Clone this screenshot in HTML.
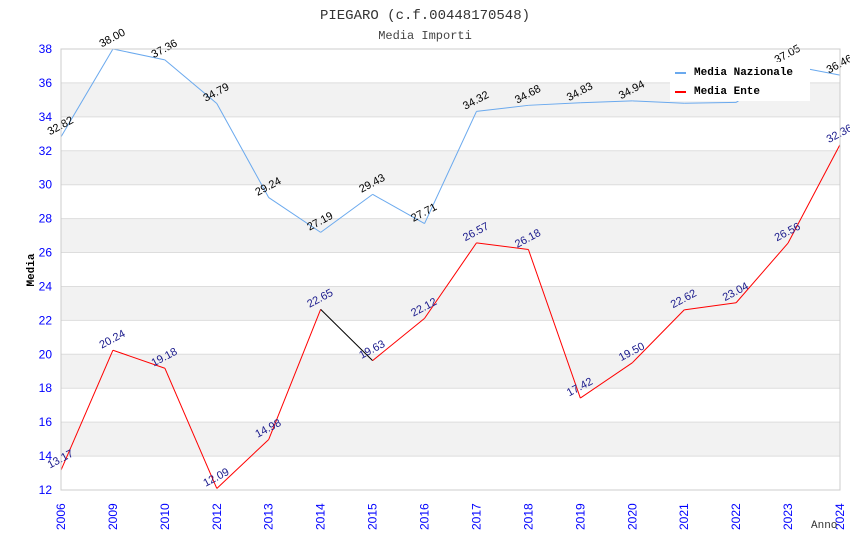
<!DOCTYPE html>
<html><head><meta charset="utf-8"><style>
body{margin:0;background:#fff;width:850px;height:550px;overflow:hidden}
svg{display:block}
</style></head><body>
<svg id="chart" width="850" height="550" xmlns="http://www.w3.org/2000/svg">
<text x="425" y="19" text-anchor="middle" font-family="Liberation Mono, monospace" font-size="14" fill="#333">PIEGARO (c.f.00448170548)</text>
<text x="425" y="39" text-anchor="middle" font-family="Liberation Mono, monospace" font-size="12" fill="#444">Media Importi</text>
<g id="bands"></g><g id="grid"></g><g id="lines"></g><g id="labels"></g><g id="axes"></g>
<text x="34" y="270" transform="rotate(-90 34 270)" text-anchor="middle" font-family="Liberation Mono, monospace" font-size="11" font-weight="bold" fill="#000">Media</text>
<text x="811" y="528" font-family="Liberation Mono, monospace" font-size="11" fill="#333">Anno</text>
<g>
<rect x="670" y="62" width="140" height="39" fill="#fff"/>
<rect x="675" y="72" width="11" height="2" fill="#6aa9ee"/>
<text x="694" y="75" font-family="Liberation Mono, monospace" font-size="11" font-weight="bold" fill="#000">Media Nazionale</text>
<rect x="675" y="91" width="11" height="2" fill="#f00"/>
<text x="694" y="94" font-family="Liberation Mono, monospace" font-size="11" font-weight="bold" fill="#000">Media Ente</text>
</g>
</svg>
<script>
const categories=["2006","2009","2010","2012","2013","2014","2015","2016","2017","2018","2019","2020","2021","2022","2023","2024"];
const nazionale=[32.82,38.00,37.36,34.79,29.24,27.19,29.43,27.71,34.32,34.68,34.83,34.94,34.80,34.85,37.05,36.46];
const ente=[13.17,20.24,19.18,12.09,14.98,22.65,19.63,22.12,26.57,26.18,17.42,19.50,22.62,23.04,26.56,32.36];
const yTicks=[12,14,16,18,20,22,24,26,28,30,32,34,36,38];
const L=61,R=840,T=49,B=490,ymin=12,ymax=38;
const NS="http://www.w3.org/2000/svg";
const xs=i=>L+i*(R-L)/(categories.length-1);
const ys=v=>B-(v-ymin)/(ymax-ymin)*(B-T);
function mk(tag,attrs,parent,text){const e=document.createElementNS(NS,tag);for(const k in attrs)e.setAttribute(k,attrs[k]);if(text!==undefined)e.textContent=text;document.getElementById(parent).appendChild(e);return e;}
for(let i=0;i<yTicks.length-1;i++){
  if(i%2===1){const r=mk('rect',{x:L,y:ys(yTicks[i+1]),width:R-L,height:ys(yTicks[i])-ys(yTicks[i+1]),fill:'#f2f2f2'},'bands');
  
  }
}
yTicks.forEach(v=>{
  const l=mk('line',{x1:L,x2:R,y1:ys(v),y2:ys(v),stroke:'#ddd','stroke-width':1},'grid');
  
  
  const t=mk('text',{x:L-9,y:ys(v)+4,'text-anchor':'end','font-family':'Liberation Sans, sans-serif','font-size':12,fill:'#00f'},'axes',v);
  
  
});
const fr=mk('rect',{x:L,y:T,width:R-L,height:B-T,fill:'none',stroke:'#ccc'},'axes');


categories.forEach((c,i)=>{
  const x=xs(i),y=530;
  const t=mk('text',{x:x+4,y:y,transform:`rotate(-90 ${x+4} ${y})`,'font-family':'Liberation Sans, sans-serif','font-size':12,fill:'#00f'},'axes',c);
  
  
});
function series(vals,color,lblColor,name){
  for(let i=0;i<vals.length-1;i++){
    const col=(name==='ente'&&i===5)?'#000':color;
    const l=mk('line',{x1:xs(i),y1:ys(vals[i]),x2:xs(i+1),y2:ys(vals[i+1]),stroke:col,'stroke-width':1},'lines');
    
    
  }
  vals.forEach((v,i)=>{
    if(name==='nazionale'&&(i===12||i===13))return;
    const x=xs(i)+1,y=ys(v)-8;
    const t=mk('text',{x:x,y:y,'text-anchor':'middle',transform:`rotate(-28 ${x} ${y})`,'font-family':'Liberation Sans, sans-serif','font-size':11,fill:lblColor},'labels',v.toFixed(2));
    
    
  });
}
series(nazionale,'#6aa9ee','#000','nazionale');
series(ente,'#f00','#1a1a8c','ente');
</script>
</body></html>
